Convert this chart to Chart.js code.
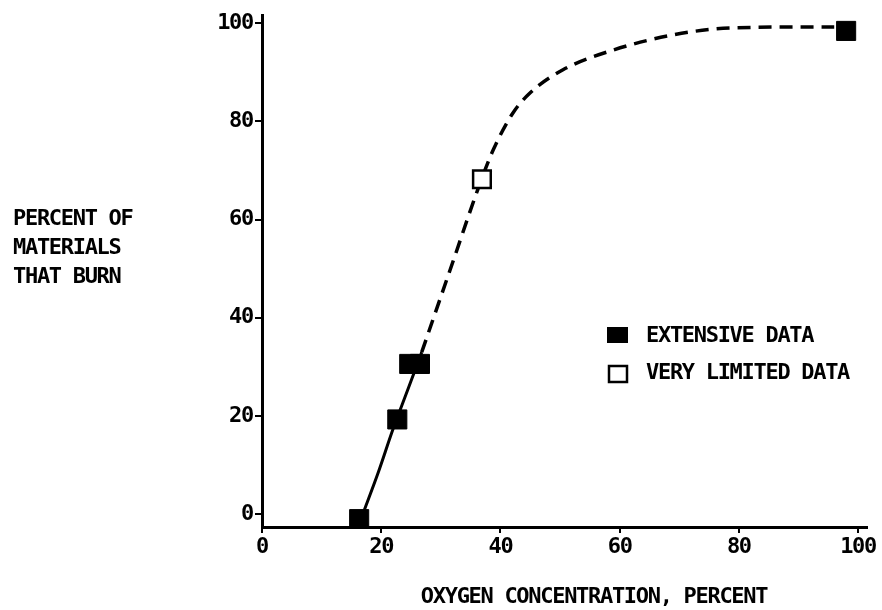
<!DOCTYPE html>
<html><head><meta charset="utf-8">
<script src="https://cdn.jsdelivr.net/npm/chart.js@4/dist/chart.umd.min.js"></script>
<style>html,body{margin:0;padding:0;background:#fff}#wrap{width:882px;height:610px}</style>
</head><body><div id="wrap"><canvas id="c" width="882" height="610"></canvas></div>
<script>
// Data
const extensiveX = [16.3, 22.7, 24.7, 26.5, 98.0];
const extensiveY = [-1, 19.3, 30.6, 30.6, 98.4];
const limitedX = [36.9];
const limitedY = [68.2];
const solidCurveX = [16.9, 19.5, 22.0, 24.5, 26.8];
const solidCurveY = [0, 8.5, 17.4, 25.5, 33];
const dashedCurveX = [26.8, 32.0, 36.2, 38.8, 42.1, 45.0, 50.5, 58.9, 69.0, 78.5, 92.4, 96.0];
const dashedCurveY = [33, 51.3, 66.1, 74.2, 81.7, 85.8, 90.5, 94.5, 97.6, 99.0, 99.2, 99.2];
const xTickValues = [0, 20, 40, 60, 80, 100];
const yTickValues = [0, 20, 40, 60, 80, 100];
const yTitleLines = ['PERCENT OF', 'MATERIALS', 'THAT BURN'];
const xTitle = 'OXYGEN CONCENTRATION, PERCENT';
const legendLabels = ['EXTENSIVE DATA', 'VERY LIMITED DATA'];

const pts = (xs, ys) => xs.map((x, i) => ({x, y: ys[i]}));
const FONT = '"DejaVu Sans Mono", monospace';
const SPACING = '-1.3px';

const spacing = {
  id: 'spacing',
  beforeLayout(chart) { chart.ctx.letterSpacing = SPACING; },
  beforeDraw(chart) { chart.ctx.letterSpacing = SPACING; }
};

const overlay = {
  id: 'overlay',
  afterDraw(chart) {
    const ctx = chart.ctx;
    ctx.save();
    ctx.letterSpacing = SPACING;
    ctx.fillStyle = '#000';
    ctx.font = 'bold 22px ' + FONT;
    ctx.textBaseline = 'middle';
    ctx.textAlign = 'left';
    const ys = [219, 248, 277];
    yTitleLines.forEach((t, i) => ctx.fillText(t, 13, ys[i]));
    ctx.textAlign = 'center';
    ctx.fillText(xTitle, 594, 597);
    ctx.textAlign = 'left';
    // legend
    ctx.fillRect(607, 327, 21, 16);
    ctx.fillText(legendLabels[0], 646, 336);
    ctx.lineWidth = 2.5;
    ctx.strokeStyle = '#000';
    ctx.fillStyle = '#fff';
    ctx.fillRect(609, 366, 18, 16);
    ctx.strokeRect(609, 366, 18, 16);
    ctx.fillStyle = '#000';
    ctx.fillText(legendLabels[1], 646, 373);
    ctx.restore();
  }
};

new Chart(document.getElementById('c'), {
  type: 'scatter',
  data: {
    datasets: [
      { label: legendLabels[0], data: pts(extensiveX, extensiveY), pointStyle: 'rect', pointRadius: 13.5, pointHoverRadius: 13.5,
        backgroundColor: '#000', borderColor: '#000', borderWidth: 1, showLine: false },
      { label: legendLabels[1], data: pts(limitedX, limitedY), pointStyle: 'rect', pointRadius: 12.5, pointHoverRadius: 12.5,
        backgroundColor: '#fff', borderColor: '#000', borderWidth: 2.5, showLine: false },
      { label: 'solid', data: pts(solidCurveX, solidCurveY), showLine: true, pointRadius: 0, borderColor: '#000', borderWidth: 3,
        tension: 0.3, cubicInterpolationMode: 'monotone', fill: false },
      { label: 'dashed', data: pts(dashedCurveX, dashedCurveY), showLine: true, pointRadius: 0, borderColor: '#000', borderWidth: 3.5,
        borderDash: [13, 8], tension: 0.4, cubicInterpolationMode: 'monotone', fill: false }
    ]
  },
  options: {
    responsive: false,
    animation: false,
    events: [],
    layout: { padding: { left: 0, right: 15, top: 12, bottom: 0 } },
    plugins: { legend: { display: false }, tooltip: { enabled: false } },
    scales: {
      x: {
        type: 'linear', min: 0, max: 101.5,
        afterFit(s) { s.height = 83; },
        afterBuildTicks(s) { s.ticks = xTickValues.map(v => ({value: v})); },
        border: { display: true, color: '#000', width: 3 },
        grid: { display: true, drawOnChartArea: false, drawTicks: true, tickLength: 6, color: '#000', lineWidth: 2 },
        ticks: { color: '#000', font: { family: FONT, size: 22, weight: 'bold' }, padding: 1, maxRotation: 0 }
      },
      y: {
        type: 'linear', min: -2.6, max: 101.6,
        afterFit(s) { s.width = 262; },
        afterBuildTicks(s) { s.ticks = yTickValues.map(v => ({value: v})); },
        border: { display: true, color: '#000', width: 3 },
        grid: { display: true, drawOnChartArea: false, drawTicks: true, tickLength: 7, color: '#000', lineWidth: 2 },
        ticks: { color: '#000', font: { family: FONT, size: 22, weight: 'bold' }, padding: 2 }
      }
    }
  },
  plugins: [spacing, overlay]
});
</script>
</body></html>
